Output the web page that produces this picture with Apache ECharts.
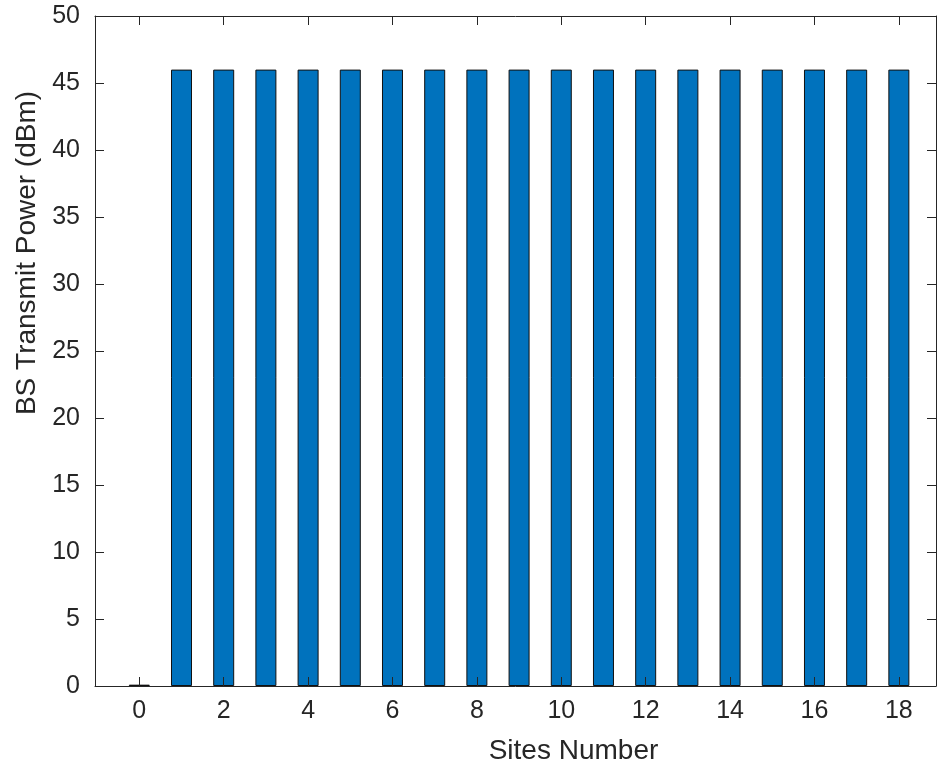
<!DOCTYPE html>
<html>
<head>
<meta charset="utf-8">
<script src="https://cdn.jsdelivr.net/npm/echarts@6/dist/echarts.min.js"></script>
<style>
html,body{margin:0;padding:0;background:#fff;}
#chart{width:940px;height:770px;}
</style>
</head>
<body>
<div id="chart"></div>
<script>
const sites = [0,1,2,3,4,5,6,7,8,9,10,11,12,13,14,15,16,17,18];
const power = [0.1,46,46,46,46,46,46,46,46,46,46,46,46,46,46,46,46,46,46];
const xTickValues = [0,2,4,6,8,10,12,14,16,18];
const yTickValues = [0,5,10,15,20,25,30,35,40,45,50];

const FONT = '"Liberation Sans", Arial, Helvetica, sans-serif';
const INK = '#262626';

const chart = echarts.init(document.getElementById('chart'), null, {renderer:'canvas'});
const xMin = -1.05, xMax = 18.88;

const baseX = {
  type:'value', min:xMin, max:xMax, z:5,
  splitLine:{show:false},
  axisLine:{show:true, onZero:false, lineStyle:{color:INK, width:1}},
  axisTick:{show:true, inside:true, length:9, customValues:xTickValues, lineStyle:{color:INK, width:1}}
};

chart.setOption({
  animation:false,
  backgroundColor:'#fff',
  grid:{left:95, right:4, top:16, bottom:82, containLabel:false},
  xAxis:[
    Object.assign({}, baseX, {
      position:'bottom',
      name:'Sites Number',
      nameLocation:'middle',
      nameGap:51,
      nameTextStyle:{fontFamily:FONT, fontSize:28, color:INK, padding:[0,0,0,116]},
      axisLabel:{show:true, customValues:xTickValues, margin:13, fontFamily:FONT, fontSize:25, color:INK}
    }),
    Object.assign({}, baseX, {
      position:'top',
      axisLabel:{show:false}
    })
  ],
  yAxis:[
    {
      type:'value', min:0, max:50, interval:5, position:'left', z:5,
      name:'BS Transmit Power (dBm)',
      nameLocation:'middle',
      nameGap:54,
      nameRotate:90,
      nameTextStyle:{fontFamily:FONT, fontSize:28, color:INK, padding:[0,0,0,196]},
      splitLine:{show:false},
      axisLine:{show:true, onZero:false, lineStyle:{color:INK, width:1}},
      axisTick:{show:true, inside:true, length:9, lineStyle:{color:INK, width:1}},
      axisLabel:{show:true, margin:15, fontFamily:FONT, fontSize:25, color:INK, customValues:yTickValues}
    },
    {
      type:'value', min:0, max:50, interval:5, position:'right', z:5,
      splitLine:{show:false},
      axisLine:{show:true, onZero:false, lineStyle:{color:INK, width:1}},
      axisTick:{show:true, inside:true, length:9, lineStyle:{color:INK, width:1}},
      axisLabel:{show:false}
    }
  ],
  series:[{
    type:'bar',
    xAxisIndex:0, yAxisIndex:0,
    barWidth:21,
    z:2,
    data: sites.map((s,i)=>[s, power[i]]),
    itemStyle:{color:'#0072BD', borderColor:'#111', borderWidth:1}
  }]
});
</script>
</body>
</html>
